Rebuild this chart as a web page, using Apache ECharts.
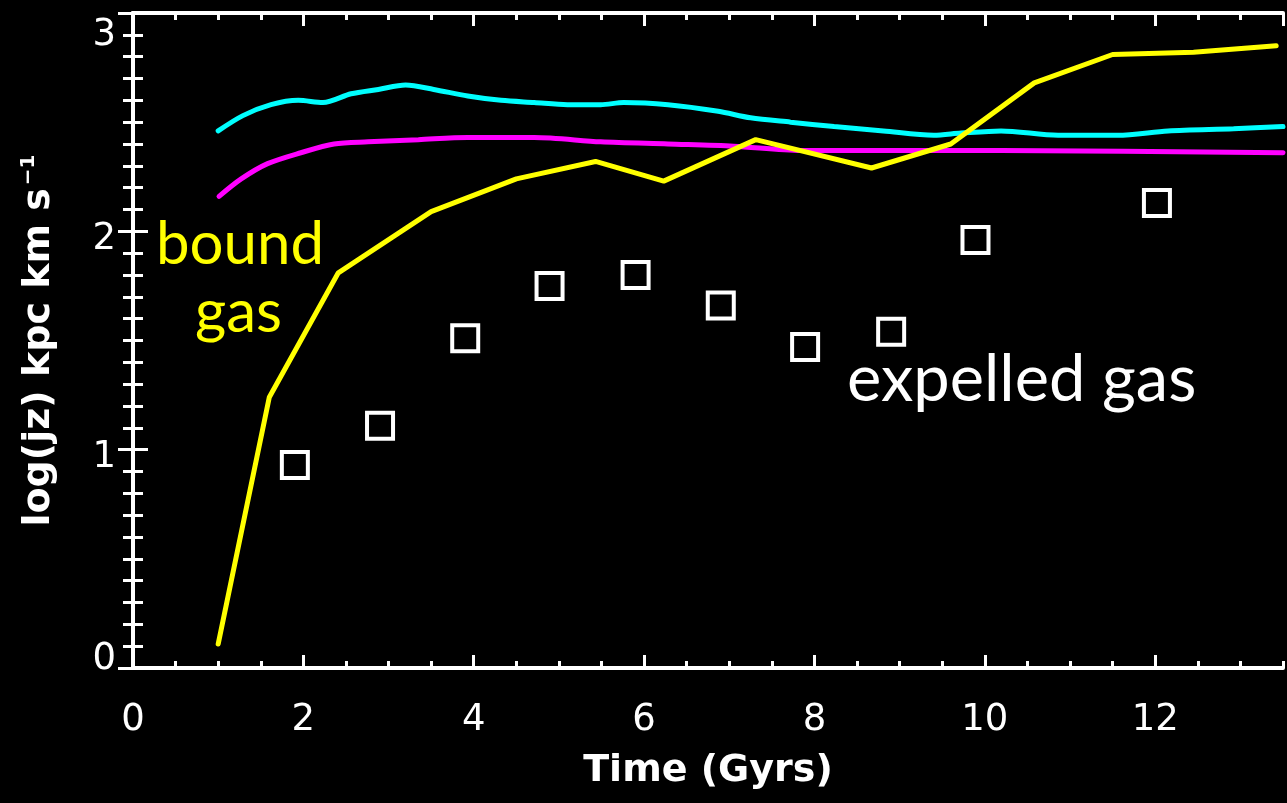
<!DOCTYPE html>
<html>
<head>
<meta charset="utf-8">
<script src="https://cdn.jsdelivr.net/npm/echarts@6/dist/echarts.min.js"></script>
<style>
  html, body { margin: 0; padding: 0; background: #000; }
  #chart { width: 1287px; height: 803px; }
</style>
</head>
<body>
<div id="chart"></div>
<script>
// bound gas (yellow)
var boundTime = [1.00, 1.60, 2.41, 3.50, 4.50, 5.43, 6.23, 7.31, 8.67, 9.60, 10.58, 11.50, 12.45, 13.42];
var boundJz = [0.11, 1.24, 1.81, 2.09, 2.24, 2.32, 2.23, 2.42, 2.29, 2.40, 2.68, 2.81, 2.82, 2.85];

// cyan curve
var cyanTime = [1.00, 1.29, 1.62, 1.94, 2.23, 2.56, 2.88, 3.20, 3.53, 3.93, 4.32, 4.71, 5.10, 5.49, 5.76,
  6.28, 6.87, 7.25, 7.72, 8.23, 8.81, 9.40, 9.72, 10.19, 10.86, 11.56, 12.15, 12.92, 13.50];
var cyanJz = [2.46, 2.53, 2.58, 2.60, 2.59, 2.63, 2.65, 2.67, 2.65, 2.62, 2.60, 2.59, 2.58, 2.58, 2.59,
  2.58, 2.55, 2.52, 2.50, 2.48, 2.46, 2.44, 2.45, 2.46, 2.44, 2.44, 2.46, 2.47, 2.48];

// magenta curve
var magentaTime = [1.01, 1.27, 1.58, 1.97, 2.36, 2.76, 3.35, 3.93, 4.71, 5.49, 6.28, 7.05, 7.84, 8.63, 10.19, 13.50];
var magentaJz = [2.16, 2.24, 2.31, 2.36, 2.40, 2.41, 2.42, 2.43, 2.43, 2.41, 2.40, 2.39, 2.37, 2.37, 2.37, 2.36];

// expelled gas (squares)
var expelledTime = [1.90, 2.90, 3.90, 4.89, 5.90, 6.90, 7.89, 8.90, 9.89, 12.02];
var expelledJz = [0.93, 1.11, 1.51, 1.75, 1.80, 1.66, 1.47, 1.54, 1.96, 2.13];

var xTicks = [0, 2, 4, 6, 8, 10, 12];
var yTicks = [0, 1, 2, 3];

function pairs(xs, ys) {
  return xs.map(function (x, i) { return [x, ys[i]]; });
}

var axisFont = "DejaVu Sans";
var white = "#fff";

// IDL style box: ticks inside on all four sides
function xAxisDef(position, interval, tickLen, withLabels) {
  return {
    type: "value",
    position: position,
    min: xTicks[0],
    max: 13.5,
    interval: interval,
    axisLine: { show: withLabels !== null, lineStyle: { color: white, width: 4 } },
    axisTick: { inside: true, length: tickLen, lineStyle: { color: white, width: 3 } },
    axisLabel: withLabels ? {
      color: white, fontSize: 37, fontFamily: axisFont, margin: 34, showMaxLabel: false,
      formatter: function (v) { return xTicks.indexOf(v) >= 0 ? String(v) : ""; }
    } : { show: false },
    splitLine: { show: false }
  };
}

function yAxisDef(position, withLabels) {
  return {
    type: "value",
    position: position,
    min: yTicks[0],
    max: yTicks[yTicks.length - 1],
    interval: 1,
    axisLine: { show: true, lineStyle: { color: white, width: 4 } },
    axisTick: { inside: true, length: 15, lineStyle: { color: white, width: 3 } },
    minorTick: { show: true, splitNumber: 10, length: 10, lineStyle: { color: white, width: 3 } },
    axisLabel: withLabels ? {
      color: white, fontSize: 37, fontFamily: axisFont, margin: 17,
      formatter: function (v) {
        if (v === yTicks[yTicks.length - 1]) return "{top|" + v + "}";
        if (v === yTicks[0]) return "{bot|" + v + "}";
        return "{mid|" + v + "}";
      },
      rich: {
        top: { padding: [44, 0, 0, 0] },
        mid: { padding: [16, 0, 0, 0] },
        bot: { padding: [0, 0, 18, 0] }
      }
    } : { show: false },
    splitLine: { show: false }
  };
}

var xMain = xAxisDef("bottom", 2, 13, true);
xMain.name = "Time (Gyrs)";
xMain.nameLocation = "middle";
xMain.nameGap = 84;
xMain.nameTextStyle = { color: white, fontSize: 38, fontWeight: "bold", fontFamily: axisFont };

var yMain = yAxisDef("left", true);
yMain.name = "{a|log(jz) kpc km s}{b|\u22121}";
yMain.nameLocation = "middle";
yMain.nameGap = 74;
yMain.nameTextStyle = {
  color: white, fontFamily: axisFont,
  rich: {
    a: { fontSize: 38, fontWeight: "bold", color: white, fontFamily: axisFont },
    b: { fontSize: 20, fontWeight: "bold", color: white, fontFamily: axisFont, padding: [0, 0, 20, 3] }
  }
};

var option = {
  backgroundColor: "#000",
  animation: false,
  grid: { left: 133, right: 4, top: 13, bottom: 135 },
  xAxis: [
    xMain,
    xAxisDef("bottom", 0.5, 7, null),
    xAxisDef("top", 2, 13, false),
    xAxisDef("top", 0.5, 7, null)
  ],
  yAxis: [yMain, yAxisDef("right", false)],
  series: [
    {
      name: "cyan", type: "line", data: pairs(cyanTime, cyanJz),
      showSymbol: false, smooth: 0.3,
      lineStyle: { color: "#00ffff", width: 5, cap: "round" }
    },
    {
      name: "magenta", type: "line", data: pairs(magentaTime, magentaJz),
      showSymbol: false, smooth: 0.3,
      lineStyle: { color: "#ff00ff", width: 5, cap: "round" }
    },
    {
      name: "bound gas", type: "line", data: pairs(boundTime, boundJz),
      showSymbol: false,
      lineStyle: { color: "#ffff00", width: 5, cap: "round" }
    },
    {
      name: "expelled gas", type: "scatter", data: pairs(expelledTime, expelledJz),
      symbol: "rect", symbolSize: 26,
      itemStyle: { color: "#000", borderColor: white, borderWidth: 4, opacity: 1 }
    }
  ],
  graphic: [
    { type: "text", x: 156, y: 245, style: { text: "bound", fill: "#ffff00", fontSize: 60, fontFamily: "Lato", verticalAlign: "middle" } },
    { type: "text", x: 195, y: 313, style: { text: "gas", fill: "#ffff00", fontSize: 60, fontFamily: "Lato", verticalAlign: "middle" } },
    { type: "text", x: 847, y: 380, style: { text: "expelled gas", fill: white, fontSize: 65, fontFamily: "Lato", verticalAlign: "middle" } }
  ]
};

var chart = echarts.init(document.getElementById("chart"));
chart.setOption(option);
window.addEventListener("resize", function () {
  chart.resize();
});
</script>
</body>
</html>
